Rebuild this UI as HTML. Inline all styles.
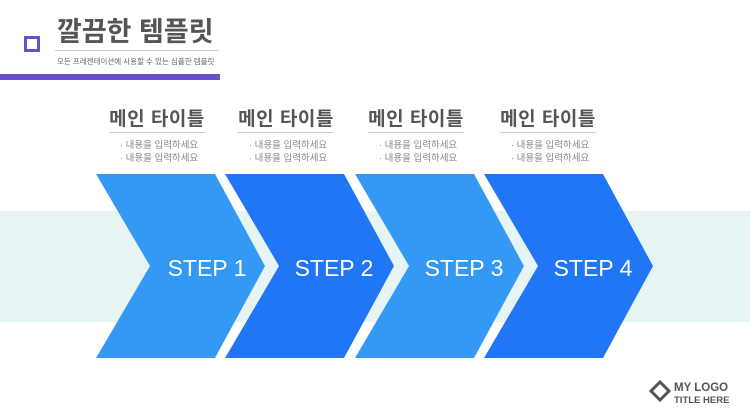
<!DOCTYPE html>
<html><head><meta charset="utf-8"><style>
body{margin:0;width:750px;height:420px;overflow:hidden;background:#fff;font-family:"Liberation Sans","Noto Sans CJK KR",sans-serif;position:relative}
.a{position:absolute}
.h{position:absolute;width:130px;text-align:center;font-size:19px;font-weight:bold;color:#555;top:104px;letter-spacing:0.5px}
.ln{position:absolute;height:1px;background:#ccc;top:132px;width:96px}
.b{position:absolute;width:130px;text-align:center;font-size:9.5px;color:#888;top:139px;line-height:13px}
</style></head><body>
<div class="a" style="left:0;top:211px;width:750px;height:111px;background:#e6f5f3"></div>
<div class="a" style="left:24px;top:36px;width:10px;height:10px;border:3.5px solid #6a4fc8"></div>
<div class="a" style="left:57px;top:10px;font-size:27px;font-weight:bold;color:#555;letter-spacing:0px">깔끔한 템플릿</div>
<div class="a" style="left:55px;top:50px;width:164px;height:1px;background:#ccc"></div>
<div class="a" style="left:57px;top:56px;font-size:7.5px;color:#666">모든 프레젠테이션에 사용할 수 있는 심플한 템플릿</div>
<div class="a" style="left:0;top:74px;width:220px;height:6px;background:#6a4fc8"></div>

<div class="h" style="left:92px">메인 타이틀</div><div class="ln" style="left:110px"></div>
<div class="b" style="left:94px">· 내용을 입력하세요<br>· 내용을 입력하세요</div>
<div class="h" style="left:221px">메인 타이틀</div><div class="ln" style="left:238px"></div>
<div class="b" style="left:223px">· 내용을 입력하세요<br>· 내용을 입력하세요</div>
<div class="h" style="left:351px">메인 타이틀</div><div class="ln" style="left:368px"></div>
<div class="b" style="left:353px">· 내용을 입력하세요<br>· 내용을 입력하세요</div>
<div class="h" style="left:483px">메인 타이틀</div><div class="ln" style="left:500px"></div>
<div class="b" style="left:485px">· 내용을 입력하세요<br>· 내용을 입력하세요</div>

<svg class="a" style="left:0;top:0" width="750" height="420">
<g font-family="Liberation Sans, sans-serif" font-size="23" fill="#fff" text-anchor="middle">
<polygon points="96,174 215,174 265,266 215,358 96,358 150,266" fill="#3399f5"/>
<polygon points="225,174 344,174 394,266 344,358 225,358 279,266" fill="#2176f5"/>
<polygon points="355,174 474,174 524,266 474,358 355,358 409,266" fill="#3399f5"/>
<polygon points="484,174 603,174 653,266 603,358 484,358 538,266" fill="#2176f5"/>
<text x="207" y="276">STEP 1</text>
<text x="334" y="276">STEP 2</text>
<text x="464" y="276">STEP 3</text>
<text x="593" y="276">STEP 4</text>
</g>
<polygon points="660,382 669,391 660,400 651,391" fill="none" stroke="#555" stroke-width="3"/>
<text x="674" y="391" font-family="Liberation Sans, sans-serif" font-size="11.5" font-weight="bold" fill="#555">MY LOGO</text>
<text x="674" y="403" font-family="Liberation Sans, sans-serif" font-size="9.5" font-weight="bold" fill="#555">TITLE HERE</text>
</svg>
</body></html>
